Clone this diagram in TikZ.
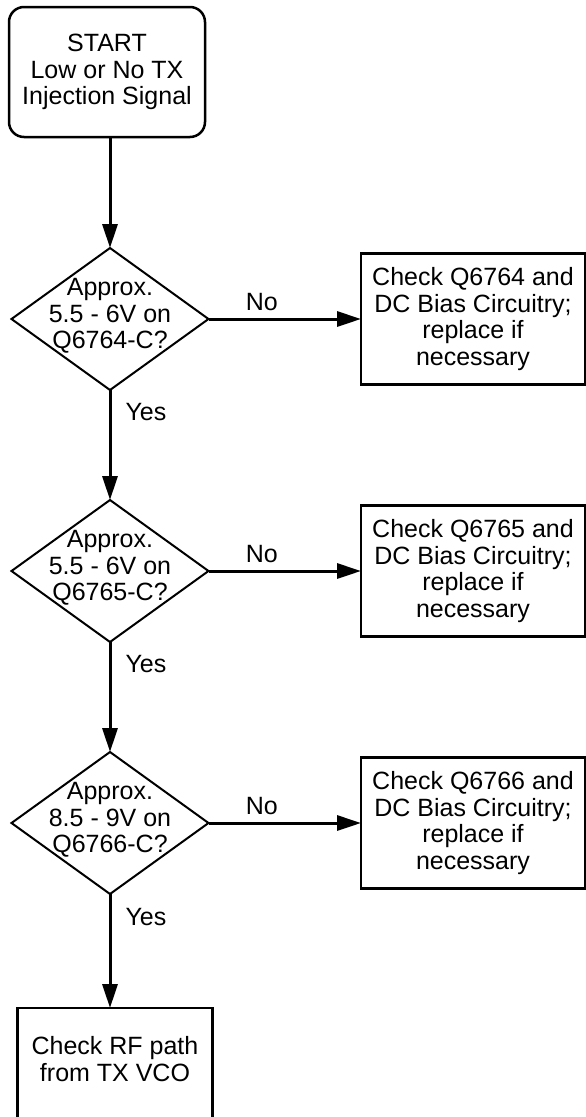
\documentclass[tikz,border=0pt]{standalone}
\usepackage{fontspec}
\setmainfont{Liberation Sans}
\usetikzlibrary{arrows.meta,positioning,shapes.geometric}
\tikzset{
  startbox/.style={draw, rounded corners=15pt, line width=2.5pt, align=center, minimum width=196pt, minimum height=130pt, inner sep=0pt, outer sep=0pt},
  checkbox/.style={draw, line width=2.5pt, align=center, minimum width=224pt, minimum height=131pt, inner sep=0pt, outer sep=0pt},
  endbox/.style={draw, line width=2.5pt, align=center, minimum width=195pt, minimum height=112pt, text depth=10pt, inner sep=0pt, outer sep=0pt},
  decision/.style={draw, diamond, line width=2pt, minimum width=197pt, minimum height=142pt, inner sep=0pt, outer sep=0pt},
  dectext/.style={align=center, inner sep=0pt, yshift=3pt},
  lbl/.style={inner sep=0pt},
  line/.style={-{Triangle[length=24pt,width=15pt]}, line width=3pt}
}
\begin{document}
\begin{tikzpicture}[x=1pt, y=-1pt, font=\fontsize{25}{26.5}\selectfont]
  \useasboundingbox (0,0) rectangle (586,1117);
  \node[startbox] (start) at (107,72) {START\\Low or No TX\\Injection Signal};
  \node[decision, below=111pt of start, xshift=3pt, label={[dectext]center:{Approx.\\5.5 - 6V on\\Q6764-C?}}] (q1) {};
  \node[checkbox, right=152.5pt of q1] (fix1) {Check Q6764 and\\DC Bias Circuitry;\\replace if\\necessary};
  \node[decision, below=110pt of q1, label={[dectext]center:{Approx.\\5.5 - 6V on\\Q6765-C?}}] (q2) {};
  \node[checkbox, right=152.5pt of q2] (fix2) {Check Q6765 and\\DC Bias Circuitry;\\replace if\\necessary};
  \node[decision, below=110pt of q2, label={[dectext]center:{Approx.\\8.5 - 9V on\\Q6766-C?}}] (q3) {};
  \node[checkbox, right=152.5pt of q3] (fix3) {Check Q6766 and\\DC Bias Circuitry;\\replace if\\necessary};
  \node[endbox, below=114pt of q3, xshift=5pt] (rfpath) {Check RF path\\from TX VCO};
  % flow
  \draw[line] (start.south -| q1.north) -- (q1);
  \draw[line] (q1) -- node[lbl, pos=0.35, above=7pt] {No} (fix1);
  \draw[line] (q1) -- node[lbl, pos=0.2, right=14pt] {Yes} (q2);
  \draw[line] (q2) -- node[lbl, pos=0.35, above=7pt] {No} (fix2);
  \draw[line] (q2) -- node[lbl, pos=0.2, right=14pt] {Yes} (q3);
  \draw[line] (q3) -- node[lbl, pos=0.35, above=7pt] {No} (fix3);
  \draw[line] (q3) -- node[lbl, pos=0.2, right=14pt] {Yes} (q3.south |- rfpath.north);
\end{tikzpicture}
\end{document}
